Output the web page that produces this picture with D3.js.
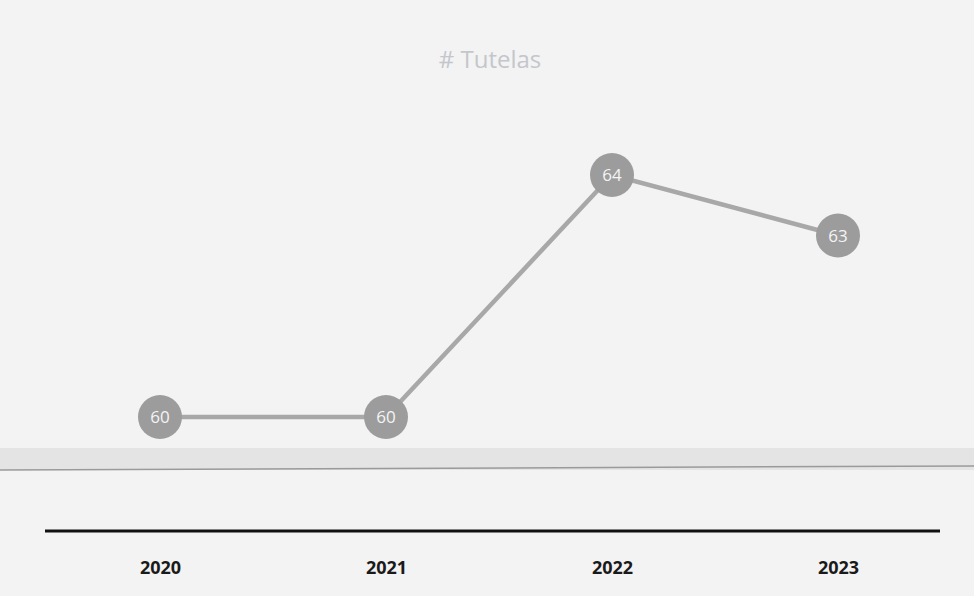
<!DOCTYPE html>
<html><head><meta charset="utf-8">
<script src="https://cdn.jsdelivr.net/npm/d3@7"></script>
<style>body{margin:0;background:#f3f3f3;}svg{display:block;}</style>
</head><body>
<svg id="c" width="974" height="596"></svg>
<script>
const years = ["2020","2021","2022","2023"];
const tutelas = [60, 60, 64, 63];
const title = "# Tutelas";

const svg = d3.select("#c");
svg.append("rect").attr("width",974).attr("height",596).attr("fill","#f3f3f3");
svg.append("rect").attr("x",0).attr("y",448).attr("width",974).attr("height",22).attr("fill","#e4e4e4");
svg.append("line").attr("x1",0).attr("x2",974).attr("y1",470).attr("y2",466).attr("stroke","#9a9a9a").attr("stroke-width",1.5);

const x = d3.scalePoint().domain(years).range([160, 838]);
const y = d3.scaleLinear().domain([60, 64]).range([417, 175]);

svg.append("text").attr("x",490).attr("y",68).attr("text-anchor","middle")
  .attr("font-family","Open Sans, sans-serif").attr("font-size",24).attr("fill","#c4c6cc").text(title);

// axis
const axis = svg.append("g").attr("transform","translate(0,531)")
  .call(d3.axisBottom(x).tickSize(0).tickPadding(30));
axis.select(".domain").remove();
axis.append("line").attr("x1",45).attr("x2",940).attr("stroke","#111").attr("stroke-width",3);
axis.selectAll(".tick text").attr("font-family","Open Sans, sans-serif").attr("font-size",18)
  .attr("font-weight","bold").attr("fill","#1a1a1a");

const data = years.map((yr,i)=>({yr, v:tutelas[i]}));
svg.append("path").datum(data)
  .attr("d", d3.line().x(d=>x(d.yr)).y(d=>y(d.v)))
  .attr("fill","none").attr("stroke","#a8a8a8").attr("stroke-width",4.5);

const pts = svg.selectAll("g.pt").data(data).join("g").attr("class","pt")
  .attr("transform", d=>`translate(${x(d.yr)},${y(d.v)})`);
pts.append("circle").attr("r",22).attr("fill","#9c9c9c");
pts.append("text").attr("text-anchor","middle").attr("dy","0.36em")
  .attr("font-family","Open Sans, sans-serif").attr("font-size",17).attr("fill","#f4f4f4")
  .text(d=>d.v);
</script>
</body></html>
